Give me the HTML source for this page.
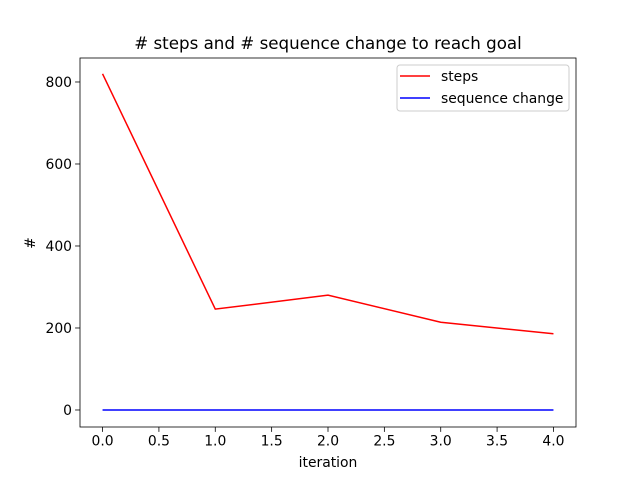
<!DOCTYPE html>
<html><head><meta charset="utf-8"><style>
body{margin:0;background:#fff;}
svg{font-family:"DejaVu Sans","Liberation Sans",sans-serif;}
</style></head><body>
<svg width="640" height="480">
<rect width="640" height="480" fill="#fff"/>
<g id="plot"></g>
</svg>
<script>
const iterations=[0,1,2,3,4];
const steps=[820,246,280,214,186];
const seqChange=[0,0,0,0,0];
const xTicks=[0,0.5,1,1.5,2,2.5,3,3.5,4];
const yTicks=[0,200,400,600,800];
const L=80,R=576,T=58,B=427;
const xMin=-0.2,xMax=4.2,yMin=-41.5,yMax=858.5;
const sx=v=>L+(v-xMin)/(xMax-xMin)*(R-L);
const sy=v=>B-(v-yMin)/(yMax-yMin)*(B-T);
const NS='http://www.w3.org/2000/svg';
const g=document.getElementById('plot');
function mk(t,a,txt){const e=document.createElementNS(NS,t);for(const k in a)e.setAttribute(k,a[k]);if(txt!==undefined)e.textContent=txt;g.appendChild(e);return e;}
xTicks.forEach(v=>{const x=sx(v);
const t=mk('line',{x1:x,x2:x,y1:B,y2:B+4.9,stroke:'#000','stroke-width':0.8});


const l=mk('text',{x:x,y:B+18.5,'font-size':13.9,'text-anchor':'middle'},v.toFixed(1));

});
yTicks.forEach(v=>{const y=sy(v);
const t=mk('line',{x1:L-4.9,x2:L,y1:y,y2:y,stroke:'#000','stroke-width':0.8});


const l=mk('text',{x:L-8,y:y+5,'font-size':13.9,'text-anchor':'end'},String(v));

});
function line(vals,color,name){const p=vals.map((v,i)=>sx(iterations[i])+','+sy(v)).join(' ');
const e=mk('polyline',{points:p,fill:'none',stroke:color,'stroke-width':1.5});

}
line(steps,'#ff0000','steps-line');
line(seqChange,'#0000ff','sequence-change-line');
const fr=mk('rect',{x:L,y:T,width:R-L,height:B-T,fill:'none',stroke:'#000','stroke-width':0.8});


const ti=mk('text',{x:(L+R)/2,y:49,'font-size':16.7,'text-anchor':'middle'},'# steps and # sequence change to reach goal');


const xl=mk('text',{x:(L+R)/2,y:467,'font-size':13.9,'text-anchor':'middle'},'iteration');


const yl=mk('text',{x:35,y:243,'font-size':13.9,'text-anchor':'middle',transform:'rotate(-90 35 243)'},'#');


const lg=mk('rect',{x:397,y:65,width:172,height:46,fill:'#fff',stroke:'#ccc','stroke-width':1,rx:3});


[['steps','#ff0000',76],['sequence change','#0000ff',98]].forEach(([n,c,y])=>{
const s=mk('line',{x1:400,x2:430,y1:y,y2:y,stroke:c,'stroke-width':1.5});


const t=mk('text',{x:441,y:y+5,'font-size':13.9},n);

});
</script>
</body></html>
